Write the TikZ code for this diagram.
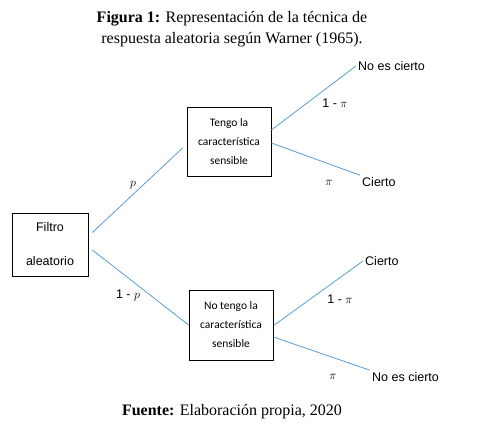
\documentclass[tikz,border=0pt]{standalone}
\usepackage{fontspec}
\setmainfont{Liberation Serif}
\setsansfont{Liberation Sans}
\newfontfamily\cajafont{Carlito}
\definecolor{azulrama}{RGB}{91,155,213}

\begin{document}
\begin{tikzpicture}[x=1pt,y=-1pt,
    caja/.style={draw,line width=0.8pt,align=center,inner sep=0pt,
        font=\cajafont\fontsize{11.5}{19}\selectfont,minimum width=84pt,minimum height=69pt},
    rama/.style={draw=azulrama,line width=0.8pt},
    etiqueta/.style={font=\sffamily\fontsize{12.5}{15}\selectfont,inner sep=2pt},
    texto/.style={font=\fontsize{16}{21}\selectfont,align=center}]
    \useasboundingbox (0,0) rectangle (481,433);

    % titulo y fuente
    \node[texto] (titulo) at (232,29.5) {\textbf{Figura 1:} Representación de la técnica de\\respuesta aleatoria según Warner (1965).};
    \node[texto] (fuente) at (232,412) {\textbf{Fuente:} Elaboración propia, 2020};

    % cajas
    \node[draw,line width=0.8pt,align=center,minimum width=76pt,minimum height=63pt,
        font=\sffamily\fontsize{12.5}{15}\selectfont] (filtro) at (50,244.5) {Filtro\\[19pt]aleatorio};
    \node[caja] (tengo) at (229,141.5) {Tengo la\\característica\\sensible};
    \node[caja,minimum height=70pt] (notengo) at (231,325) {No tengo la\\característica\\sensible};

    % respuestas
    \node[etiqueta,anchor=west] (nocierto1) at (356,66) {No es cierto};
    \node[etiqueta,anchor=west] (cierto1) at (360,182) {Cierto};
    \node[etiqueta,anchor=west] (cierto2) at (363,261) {Cierto};
    \node[etiqueta,anchor=west] (nocierto2) at (370,377) {No es cierto};

    % ramas
    \draw[rama] ([shift={(4pt,12pt)}]filtro.east) -- ([shift={(-4pt,-6.5pt)}]tengo.west);
    \draw[rama] ([shift={(4pt,-5.5pt)}]filtro.east) -- (notengo.west);
    \draw[rama] ([yshift=11.5pt]tengo.east) -- (nocierto1.west);
    \draw[rama] ([yshift=-1.5pt]tengo.east) -- (cierto1.north west);
    \draw[rama] ([xshift=1pt]notengo.east) -- (cierto2.west);
    \draw[rama] ([yshift=-12pt]notengo.east) -- (nocierto2.north west);

    % probabilidades
    \node[etiqueta] (p) at (133,185) {$p$};
    \node[etiqueta] (unomenosp) at (128,295) {1 - $p$};
    \node[etiqueta] (unomenospi1) at (335,103) {1 - $\pi$};
    \node[etiqueta] (pi1) at (329,183) {$\pi$};
    \node[etiqueta] (unomenospi2) at (340,299) {1 - $\pi$};
    \node[etiqueta] (pi2) at (333,377) {$\pi$};
\end{tikzpicture}
\end{document}
